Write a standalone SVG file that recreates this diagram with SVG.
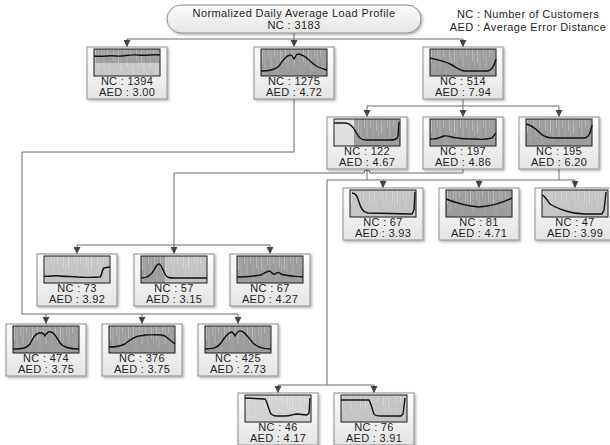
<svg xmlns="http://www.w3.org/2000/svg" width="610" height="445" viewBox="0 0 610 445">
<defs>
<style>
.t{font-family:'Liberation Sans',Arial,sans-serif;font-size:11px;fill:#1e1e1e;text-anchor:middle;letter-spacing:0.3px}
.h{font-family:'Liberation Sans',Arial,sans-serif;font-size:11px;fill:#1e1e1e;text-anchor:middle;letter-spacing:0.4px}
.box{fill:url(#bg);stroke:#8c8c8c;stroke-width:1;filter:url(#sh)}
.im{fill:#9c9c9c}
.iml{fill:#c4c4c4}
.st{fill:url(#streak)}
.fr{fill:none;stroke:#1a1a1a;stroke-width:1}
.crv{fill:none;stroke:#111;stroke-width:1.4;stroke-linejoin:round}
.c{fill:none;stroke:#6a6a6a;stroke-width:1}
.ca{fill:none;stroke:#6a6a6a;stroke-width:1;marker-end:url(#ar)}
</style>
<linearGradient id="bg" x1="0" y1="0" x2="0" y2="1"><stop offset="0" stop-color="#fdfdfd"/><stop offset="1" stop-color="#e4e4e4"/></linearGradient>
<filter id="sh" x="-10%" y="-10%" width="130%" height="130%"><feDropShadow dx="1.5" dy="1.5" stdDeviation="1" flood-color="#000" flood-opacity="0.3"/></filter>
<pattern id="streak" width="23" height="27" patternUnits="userSpaceOnUse">
<path d="M1.5,0V14" stroke="#fff" stroke-opacity=".35"/>
<path d="M4,2V22" stroke="#e6e6e6" stroke-opacity=".25"/>
<path d="M7.5,0V9" stroke="#fff" stroke-opacity=".25"/>
<path d="M10,0V18" stroke="#eee" stroke-opacity=".3"/>
<path d="M13.5,1V8" stroke="#fff" stroke-opacity=".3"/>
<path d="M16,0V25" stroke="#ddd" stroke-opacity=".2"/>
<path d="M19.5,0V12" stroke="#fff" stroke-opacity=".3"/>
<path d="M21.5,3V17" stroke="#f2f2f2" stroke-opacity=".2"/>
</pattern>
<marker id="ar" viewBox="0 0 8 8" refX="8" refY="4" markerWidth="7" markerHeight="7" markerUnits="userSpaceOnUse" orient="auto"><path d="M0,0L8,4L0,8z" fill="#444"/></marker>
</defs>
<rect width="610" height="445" fill="#fff"/>

<g id="connectors">
<path class="c" d="M294,33V39H127"/><path class="ca" d="M127,39V47"/>
<path class="ca" d="M294,39V47"/>
<path class="c" d="M294,39H463"/><path class="ca" d="M463,39V47"/>
<path class="c" d="M463,99V106H367"/><path class="ca" d="M367,106V117"/>
<path class="ca" d="M463,106V117"/>
<path class="c" d="M463,106H559"/><path class="ca" d="M559,106V117"/>
<path class="c" d="M294,99V152H22V314H46"/><path class="ca" d="M46,314V324"/>
<path class="c" d="M46,314H238"/><path class="ca" d="M142,314V324"/><path class="ca" d="M238,314V324"/>
<path class="c" d="M463,169V173H370A3,3 0 0 0 364,173H174V245"/>
<path class="c" d="M77,245H270"/><path class="ca" d="M77,245V254"/><path class="ca" d="M174,245V254"/><path class="ca" d="M270,245V254"/>
<path class="c" d="M367,169V180H327V385H374"/><path class="c" d="M278,385H327"/><path class="ca" d="M278,385V393"/><path class="ca" d="M374,385V393"/>
<path class="c" d="M559,169V180"/><path class="c" d="M367,180H575"/>
<path class="ca" d="M383,180V188"/><path class="ca" d="M479,180V188"/><path class="ca" d="M575,180V188"/>
</g>

<g id="root">
<rect x="167" y="5" width="254" height="28" rx="14" fill="url(#bg)" stroke="#8c8c8c" filter="url(#sh)"/>
<text class="h" x="294" y="17">Normalized Daily Average Load Profile</text>
<text class="h" x="294" y="29">NC : 3183</text>
</g>
<g id="legend">
<text class="h" x="528" y="18">NC : Number of Customers</text>
<text class="h" x="528" y="31">AED : Average Error Distance</text>
</g>

<g id="n1394" transform="translate(87,47)"><rect class="box" width="80" height="52"/>
<g transform="translate(7,2)"><rect class="im" width="66" height="27"/><rect class="st" width="66" height="27"/><rect y="14" width="66" height="13" fill="#fff" opacity=".45"/><rect y="14" width="66" height="13" class="st"/><path class="crv" d="M0,7C10,8 15,6 22,7S35,5 44,6S58,5 66,6"/><rect class="fr" width="66" height="27"/></g>
<text class="t" x="40" y="38">NC : 1394</text><text class="t" x="40" y="49">AED : 3.00</text></g>

<g id="n1275" transform="translate(254,47)"><rect class="box" width="80" height="52"/>
<g transform="translate(7,2)"><rect class="im" width="66" height="27"/><rect class="st" width="66" height="27"/><path class="crv" d="M0,22C8,22 14,21 18,17C22,12 24,7 29,6C31,5 32,9 33,10C34,9 35,5 37,5C44,5 48,12 54,16C58,19 62,20 66,21"/><rect class="fr" width="66" height="27"/></g>
<text class="t" x="40" y="38">NC : 1275</text><text class="t" x="40" y="49">AED : 4.72</text></g>

<g id="n514" transform="translate(423,47)"><rect class="box" width="80" height="52"/>
<g transform="translate(7,2)"><rect class="im" width="66" height="27"/><rect class="st" width="66" height="27"/><path class="crv" d="M0,9C8,11 14,12 20,15C26,18 28,21 34,22L58,22C62,21 64,18 66,10"/><rect class="fr" width="66" height="27"/></g>
<text class="t" x="40" y="38">NC : 514</text><text class="t" x="40" y="49">AED : 7.94</text></g>

<g id="n122" transform="translate(327,117)"><rect class="box" width="80" height="52"/>
<g transform="translate(7,2)"><rect class="im" width="66" height="27"/><rect width="20" height="27" fill="#dedede"/><rect class="st" width="66" height="27"/><path class="crv" d="M0,4L12,4C18,5 20,10 23,15C25,19 27,21 32,21L55,21C60,21 63,21 64,17L65,3"/><rect class="fr" width="66" height="27"/></g>
<text class="t" x="40" y="38">NC : 122</text><text class="t" x="40" y="49">AED : 4.67</text></g>

<g id="n197" transform="translate(423,117)"><rect class="box" width="80" height="52"/>
<g transform="translate(7,2)"><rect class="im" width="66" height="27"/><rect class="st" width="66" height="27"/><path class="crv" d="M0,20C6,21 10,18 14,17C18,16 22,19 28,19C34,20 40,20 46,20C52,21 58,20 62,19L66,14"/><rect class="fr" width="66" height="27"/></g>
<text class="t" x="40" y="38">NC : 197</text><text class="t" x="40" y="49">AED : 4.86</text></g>

<g id="n195" transform="translate(519,117)"><rect class="box" width="80" height="52"/>
<g transform="translate(7,2)"><rect class="im" width="66" height="27"/><rect class="st" width="66" height="27"/><path class="crv" d="M0,5C6,6 10,10 14,14C18,18 22,19 28,19L58,19C62,19 64,16 66,6"/><rect class="fr" width="66" height="27"/></g>
<text class="t" x="40" y="38">NC : 195</text><text class="t" x="40" y="49">AED : 6.20</text></g>

<g id="n67a" transform="translate(343,188)"><rect class="box" width="80" height="52"/>
<g transform="translate(7,2)"><rect class="iml" width="66" height="27"/><rect class="st" width="66" height="27"/><path class="crv" d="M2,3C6,3 7,6 9,12C11,19 13,22 18,23L62,24L64,20L65,2"/><rect class="fr" width="66" height="27"/></g>
<text class="t" x="40" y="38">NC : 67</text><text class="t" x="40" y="49">AED : 3.93</text></g>

<g id="n81" transform="translate(439,188)"><rect class="box" width="80" height="52"/>
<g transform="translate(7,2)"><rect class="im" width="66" height="27"/><rect class="st" width="66" height="27"/><path class="crv" d="M0,9C10,13 20,16 33,17C46,16 56,13 66,8"/><rect class="fr" width="66" height="27"/></g>
<text class="t" x="40" y="38">NC : 81</text><text class="t" x="40" y="49">AED : 4.71</text></g>

<g id="n47" transform="translate(535,188)"><rect class="box" width="80" height="52"/>
<g transform="translate(7,2)"><rect class="iml" width="66" height="27"/><rect class="st" width="66" height="27"/><path class="crv" d="M0,5C3,6 5,10 8,14C12,17 18,19 24,21C30,23 36,24 42,24L60,24L62,20L64,2"/><rect class="fr" width="66" height="27"/></g>
<text class="t" x="40" y="38">NC : 47</text><text class="t" x="40" y="49">AED : 3.99</text></g>

<g id="n73" transform="translate(37,254)"><rect class="box" width="80" height="52"/>
<g transform="translate(7,2)"><rect class="iml" width="66" height="27"/><rect class="st" width="66" height="27"/><path class="crv" d="M0,20C6,21 10,19 16,20C22,21 28,20 34,21C42,22 50,21 56,21C58,20 58,13 60,12L66,11"/><rect class="fr" width="66" height="27"/></g>
<text class="t" x="40" y="38">NC : 73</text><text class="t" x="40" y="49">AED : 3.92</text></g>

<g id="n57" transform="translate(134,254)"><rect class="box" width="80" height="52"/>
<g transform="translate(7,2)"><rect class="iml" width="66" height="27"/><rect width="24" height="27" fill="#9c9c9c"/><rect class="st" width="66" height="27"/><path class="crv" d="M0,22C6,22 10,20 13,14C15,10 16,8 18,8C20,8 22,14 24,18C26,22 28,22 34,22L66,22"/><rect class="fr" width="66" height="27"/></g>
<text class="t" x="40" y="38">NC : 57</text><text class="t" x="40" y="49">AED : 3.15</text></g>

<g id="n67b" transform="translate(230,254)"><rect class="box" width="80" height="52"/>
<g transform="translate(7,2)"><rect class="im" width="66" height="27"/><rect class="st" width="66" height="27"/><path class="crv" d="M0,21C10,21 18,20 24,19C28,17 30,15 33,15C35,17 36,19 38,18C40,16 42,16 44,18C48,20 56,20 66,21"/><rect class="fr" width="66" height="27"/></g>
<text class="t" x="40" y="38">NC : 67</text><text class="t" x="40" y="49">AED : 4.27</text></g>

<g id="n474" transform="translate(6,324)"><rect class="box" width="80" height="52"/>
<g transform="translate(7,2)"><rect class="im" width="66" height="27"/><rect class="st" width="66" height="27"/><path class="crv" d="M0,23C10,23 14,22 17,18C20,12 22,8 26,7C29,6 31,8 32,10C33,8 35,5 38,6C42,7 44,12 47,17C50,21 55,23 66,23"/><rect class="fr" width="66" height="27"/></g>
<text class="t" x="40" y="38">NC : 474</text><text class="t" x="40" y="49">AED : 3.75</text></g>

<g id="n376" transform="translate(102,324)"><rect class="box" width="80" height="52"/>
<g transform="translate(7,2)"><rect class="im" width="66" height="27"/><rect class="st" width="66" height="27"/><path class="crv" d="M0,21C6,21 12,20 16,18C20,15 24,11 30,10C33,9 34,10 36,9C44,9 52,8 56,10C60,13 63,16 66,18"/><rect class="fr" width="66" height="27"/></g>
<text class="t" x="40" y="38">NC : 376</text><text class="t" x="40" y="49">AED : 3.75</text></g>

<g id="n425" transform="translate(198,324)"><rect class="box" width="80" height="52"/>
<g transform="translate(7,2)"><rect class="im" width="66" height="27"/><rect class="st" width="66" height="27"/><path class="crv" d="M0,23C8,23 12,22 16,17C19,12 22,8 26,6C28,6 29,8 30,10C31,8 33,4 36,5C40,6 44,12 48,17C52,21 58,23 66,23"/><rect class="fr" width="66" height="27"/></g>
<text class="t" x="40" y="38">NC : 425</text><text class="t" x="40" y="49">AED : 2.73</text></g>

<g id="n46" transform="translate(238,393)"><rect class="box" width="80" height="52"/>
<g transform="translate(7,2)"><rect width="66" height="27" fill="#d2d2d2"/><rect class="st" width="66" height="27"/><path class="crv" d="M0,3L20,4C22,6 23,12 25,17C26,20 28,21 32,21L40,21C46,21 48,19 52,19L62,20L64,18L65,3"/><rect class="fr" width="66" height="27"/></g>
<text class="t" x="40" y="38">NC : 46</text><text class="t" x="40" y="49">AED : 4.17</text></g>

<g id="n76" transform="translate(334,393)"><rect class="box" width="80" height="52"/>
<g transform="translate(7,2)"><rect class="iml" width="66" height="27"/><rect class="st" width="66" height="27"/><path class="crv" d="M0,5L28,5C30,8 31,14 33,19C34,21 36,21 40,21L60,21L62,19L64,3"/><rect class="fr" width="66" height="27"/></g>
<text class="t" x="40" y="38">NC : 76</text><text class="t" x="40" y="49">AED : 3.91</text></g>
</svg>
